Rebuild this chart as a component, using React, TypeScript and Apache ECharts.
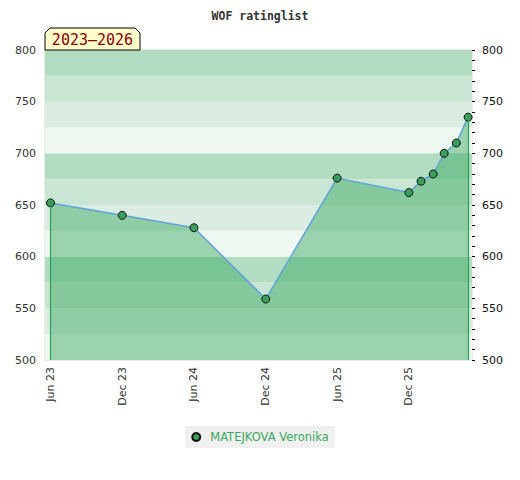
import React, { useEffect, useRef } from "react";
import * as echarts from "echarts";

const dates = [
  "2023-06-01", "2023-12-01", "2024-06-01", "2024-12-01", "2025-06-01",
  "2025-12-01", "2026-01-01", "2026-02-01", "2026-03-01", "2026-04-01", "2026-05-01",
];
const ratings = [652, 640, 628, 559, 676, 662, 673, 680, 700, 710, 735];
const tickDates = ["2023-06-01", "2023-12-01", "2024-06-01", "2024-12-01", "2025-06-01", "2025-12-01"];
const yTicks = [500, 550, 600, 650, 700, 750, 800];
const playerName = "MATEJKOVA Veronika";
const chartTitle = "WOF ratinglist";
const periodLabel = "2023\u20132026";
const monthNames = ["Jan", "Feb", "Mar", "Apr", "May", "Jun", "Jul", "Aug", "Sep", "Oct", "Nov", "Dec"];

const FONT = "'DejaVu Sans', Verdana, sans-serif";
const ts = (d: string) => Date.parse(d + "T00:00:00Z");

export default function App() {
  const ref = useRef<HTMLDivElement>(null);
  useEffect(() => {
    document.body.style.margin = "0";
    const chart = echarts.init(ref.current!, null, { renderer: "svg" });
    const yMin = yTicks[0];
    const yMax = yTicks[yTicks.length - 1];
    const last = dates.length - 1;
    chart.setOption({
      animation: false,
      title: {
        text: chartTitle,
        left: "center",
        top: 5,
        textStyle: { fontFamily: "'DejaVu Sans Mono', monospace", fontWeight: "bold", fontSize: 11.5, color: "#333" },
      },
      grid: { left: 45, right: 48, top: 50, bottom: 120, show: true, borderColor: "#d6d6d6", borderWidth: 1 },
      legend: {
        top: 426,
        left: "center",
        icon: "circle",
        itemWidth: 8,
        itemHeight: 8,
        itemGap: 10,
        backgroundColor: "#f0f0f0",
        borderRadius: 0,
        padding: [5, 6],
        textStyle: { color: "#3aa860", fontSize: 11.5, fontFamily: FONT, padding: [0, 0, 0, 5] },
        data: [playerName],
      },
      xAxis: {
        type: "value",
        min: ts("2023-05-18"),
        max: ts("2026-05-11"),
        axisLine: { show: false },
        axisTick: { show: false },
        splitLine: { show: false },
        axisLabel: {
          customValues: tickDates.map(ts),
          rotate: 90,
          fontSize: 11,
          fontFamily: FONT,
          color: "#333",
          margin: 7,
          formatter: (v: number) => {
            const d = new Date(v);
            return monthNames[d.getUTCMonth()] + " " + String(d.getUTCFullYear()).slice(2);
          },
        },
      },
      yAxis: [
        {
          type: "value",
          min: yMin,
          max: yMax,
          interval: 25,
          position: "left",
          axisLine: { show: false },
          axisTick: { show: false },
          splitLine: { show: false },
          splitArea: { show: true, areaStyle: { color: ["#eff7f1", "#dbede2", "#c8e6d3", "#b3ddc3"] } },
          axisLabel: {
            fontSize: 11,
            fontFamily: FONT,
            color: "#333",
            margin: 9,
            formatter: (v: number) => (yTicks.includes(v) ? String(v) : ""),
          },
        },
        {
          type: "value",
          min: yMin,
          max: yMax,
          interval: 50,
          position: "right",
          axisLine: { show: false },
          axisTick: { show: true, length: 3, lineStyle: { color: "#000" } },
          minorTick: { show: true, splitNumber: 5, length: 3, lineStyle: { color: "#000" } },
          splitLine: { show: false },
          axisLabel: { fontSize: 11, fontFamily: FONT, color: "#111", margin: 10 },
        },
      ],
      series: [
        {
          name: playerName,
          type: "line",
          yAxisIndex: 0,
          data: dates.map((d, i) => [ts(d), ratings[i]]),
          symbol: "circle",
          symbolSize: 8,
          itemStyle: { color: "#3a9f5c", borderColor: "#111", borderWidth: 1 },
          lineStyle: { color: "#5ea3dc", width: 1.5 },
          areaStyle: { color: "rgb(50,167,92)", opacity: 0.45, origin: "start" },
          z: 3,
          markLine: {
            silent: true,
            symbol: "none",
            label: { show: false },
            lineStyle: { color: "#2aa050", width: 1.2, type: "solid" },
            data: [
              [{ coord: [ts(dates[0]), yMin] }, { coord: [ts(dates[0]), ratings[0]] }],
              [{ coord: [ts(dates[last]), yMin] }, { coord: [ts(dates[last]), ratings[last]] }],
            ],
          },
        },
      ],
      graphic: [
        {
          type: "polygon",
          shape: { points: [[45, 50], [45, 33], [50, 28], [135, 28], [140, 33], [140, 50]] },
          style: { fill: "#ffffcc", stroke: "#000", lineWidth: 1 },
          z: 10,
        },
        {
          type: "text",
          x: 92.5,
          y: 40,
          style: {
            text: periodLabel,
            align: "center",
            verticalAlign: "middle",
            font: "15px 'DejaVu Sans Mono', monospace",
            fill: "#8b0000",
          },
          z: 11,
        },
      ],
    });
    return () => chart.dispose();
  }, []);
  return <div ref={ref} style={{ width: 520, height: 480 }} />;
}
